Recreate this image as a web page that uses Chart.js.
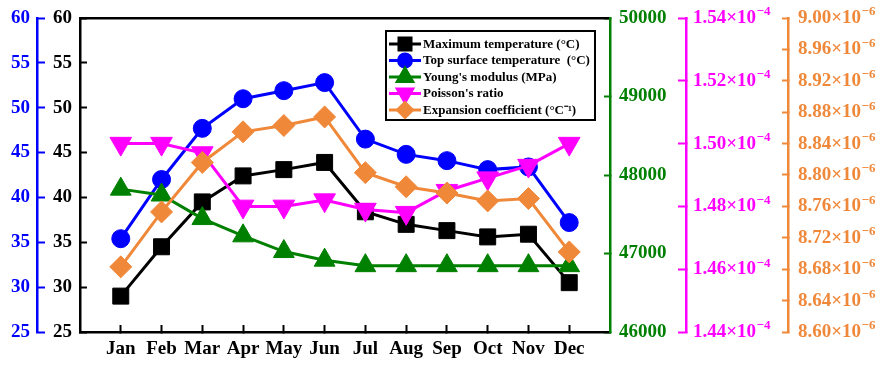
<!DOCTYPE html>
<html>
<head>
<meta charset="utf-8">
<script src="https://cdn.jsdelivr.net/npm/chart.js@4.4.1/dist/chart.umd.min.js"></script>
<style>
  html, body { margin: 0; padding: 0; background: #fff; }
  #wrap { width: 886px; height: 367px; }
</style>
</head>
<body>
<div id="wrap"><canvas id="chart" width="886" height="367"></canvas></div>
<script>
// ==========================
// Données
// ==========================
const mois = ["Jan", "Feb", "Mar", "Apr", "May", "Jun", "Jul", "Aug", "Sep", "Oct", "Nov", "Dec"];

const tempMax = [29.0, 34.5, 39.5, 42.4, 43.1, 43.9, 38.4, 37.0, 36.3, 35.6, 35.9, 30.5];      // °C
const tempSurface = [35.4, 42.0, 47.7, 51.0, 51.9, 52.8, 46.5, 44.8, 44.1, 43.1, 43.4, 37.2];  // °C
const moduleYoung = [47820, 47745, 47445, 47225, 47025, 46915, 46845, 46845, 46845, 46845, 46845, 46845]; // MPa
const poisson = [1.500, 1.500, 1.497, 1.480, 1.480, 1.482, 1.479, 1.478, 1.485, 1.489, 1.493, 1.500];     // x10^-4
const dilatation = [8.683, 8.753, 8.816, 8.855, 8.863, 8.874, 8.803, 8.785, 8.777, 8.767, 8.770, 8.702];  // x10^-6 /°C

const libelles = [
  "Maximum temperature (°C)",
  "Top surface temperature  (°C)",
  "Young's modulus (MPa)",
  "Poisson's ratio",
  "Expansion coefficient (°C⁻¹)"
];

// exposants des axes de droite (dessinés en petit, en haut à droite du libellé)
const exposants = { yRose: "−4", yOrange: "−6" };

// ==========================
// Style
// ==========================
const FONT = "'Liberation Serif', 'Times New Roman', serif";
const NOIR = "#000000", BLEU = "#0000FF", VERT = "#008000", ROSE = "#FF00FF", ORANGE = "#F0883A";

const pts = arr => arr.map((v, i) => ({ x: i, y: v }));

function serie(label, data, color, axe, style, radius, rotation, order) {
  return {
    label, data: pts(data), yAxisID: axe, order,
    borderColor: color, backgroundColor: color,
    borderWidth: 3, tension: 0,
    pointStyle: style, pointRadius: radius, pointHoverRadius: radius,
    pointRotation: rotation, pointBorderWidth: 1,
    pointBackgroundColor: color, pointBorderColor: color
  };
}

// pas de marge auto autour des axes : on place tout à la main
function sansMarge(s) {
  s.paddingTop = 0; s.paddingBottom = 0; s.paddingLeft = 0; s.paddingRight = 0;
}

function axeY(position, color, min, max, step, weight, width, tick, pad, fmt) {
  return {
    type: "linear", position, min, max, weight,
    border: { display: true, color, width: 2.5 },
    grid: { drawOnChartArea: false, color, tickColor: color, tickWidth: 2, tickLength: tick },
    ticks: { stepSize: step, color, padding: pad, font: { family: FONT, size: 19, weight: "bold" }, callback: fmt },
    afterFit: s => { s.width = width; sansMarge(s); }
  };
}

// ==========================
// Exposants des libellés ×10^n
// ==========================
const exposantsPlugin = {
  id: "exposants",
  afterDraw(chart) {
    const ctx = chart.ctx;
    ctx.save();
    Object.keys(exposants).forEach(id => {
      const s = chart.scales[id];
      const o = s.options;
      const x0 = s.left + o.grid.tickLength + o.ticks.padding;
      s.ticks.forEach(t => {
        const y = s.getPixelForValue(t.value);
        ctx.font = "bold 19px " + FONT;
        const w = ctx.measureText(t.label).width;
        ctx.font = "bold 13px " + FONT;
        ctx.fillStyle = o.ticks.color;
        ctx.textAlign = "left";
        ctx.textBaseline = "middle";
        ctx.fillText(exposants[id], x0 + w + 0.5, y - 6);
      });
    });
    ctx.restore();
  }
};

// ==========================
// Légende dessinée dans la zone du graphe
// ==========================
const legendeInterne = {
  id: "legendeInterne",
  afterDraw(chart) {
    const ctx = chart.ctx;
    const tailles = [8.5, 6.5, 8.8, 8.8, 7.5];
    ctx.save();
    ctx.fillStyle = "#fff";
    ctx.fillRect(386, 31, 209, 89);
    ctx.strokeStyle = "#000";
    ctx.lineWidth = 2;
    ctx.strokeRect(386, 31, 209, 89);
    chart.data.datasets.forEach((ds, i) => {
      const y = 44 + i * 16.5;
      ctx.strokeStyle = ds.borderColor;
      ctx.lineWidth = 3;
      ctx.beginPath();
      ctx.moveTo(389, y);
      ctx.lineTo(421, y);
      ctx.stroke();
      ctx.fillStyle = ds.borderColor;
      Chart.helpers.drawPoint(ctx, {
        pointStyle: ds.pointStyle, radius: tailles[i], rotation: ds.pointRotation, borderWidth: 1
      }, 405, y);
      ctx.fillStyle = "#000";
      ctx.font = "bold 13px " + FONT;
      ctx.textBaseline = "middle";
      ctx.textAlign = "left";
      ctx.fillText(libelles[i], 423, y + 0.5);
    });
    ctx.restore();
  }
};

// ==========================
// Graphe
// ==========================
new Chart(document.getElementById("chart"), {
  type: "line",
  data: {
    datasets: [
      serie(libelles[0], tempMax, NOIR, "yNoir", "rect", 11.3, 0, 5),
      serie(libelles[1], tempSurface, BLEU, "yBleu", "circle", 9, 0, 4),
      serie(libelles[2], moduleYoung, VERT, "yVert", "triangle", 12, 0, 3),
      serie(libelles[3], poisson, ROSE, "yRose", "triangle", 12.5, 180, 2),
      serie(libelles[4], dilatation, ORANGE, "yOrange", "rectRot", 11, 0, 1)
    ]
  },
  options: {
    responsive: false,
    devicePixelRatio: 1,
    animation: false,
    layout: { padding: { left: 0, right: 0, top: 18, bottom: 0 } },
    plugins: { legend: { display: false }, tooltip: { enabled: false } },
    scales: {
      x: {
        type: "linear", position: "bottom", min: -1, max: 12,
        border: { display: true, color: NOIR, width: 2.5 },
        grid: { drawOnChartArea: false, color: NOIR, tickColor: NOIR, tickWidth: 2, tickLength: -7 },
        ticks: {
          autoSkip: false, padding: 13, color: NOIR,
          font: { family: FONT, size: 19, weight: "bold" },
          callback: v => mois[v] ?? ""
        },
        afterBuildTicks: s => { s.ticks = mois.map((m, i) => ({ value: i })); },
        afterFit: s => { s.height = 35; sansMarge(s); }
      },
      xHaut: {
        type: "linear", position: "top", min: -1, max: 12,
        border: { display: true, color: NOIR, width: 2.5 },
        grid: { display: false },
        ticks: { display: false },
        afterFit: s => { s.height = 0; sansMarge(s); }
      },
      yNoir: axeY("left", NOIR, 25, 60, 5, 0, 43, -7, 15, v => String(v)),
      yBleu: axeY("left", BLEU, 25, 60, 5, 1, 37, -8, 15, v => String(v)),
      yVert: axeY("right", VERT, 46000, 50000, 1000, 0, 76, -6, 15, v => String(v)),
      yRose: axeY("right", ROSE, 1.44, 1.54, 0.02, 1, 102, -8, 15, v => v.toFixed(2) + "×10"),
      yOrange: axeY("right", ORANGE, 8.60, 9.00, 0.04, 2, 98, -6, 16, v => v.toFixed(2) + "×10")
    }
  },
  plugins: [legendeInterne, exposantsPlugin]
});
</script>
</body>
</html>
